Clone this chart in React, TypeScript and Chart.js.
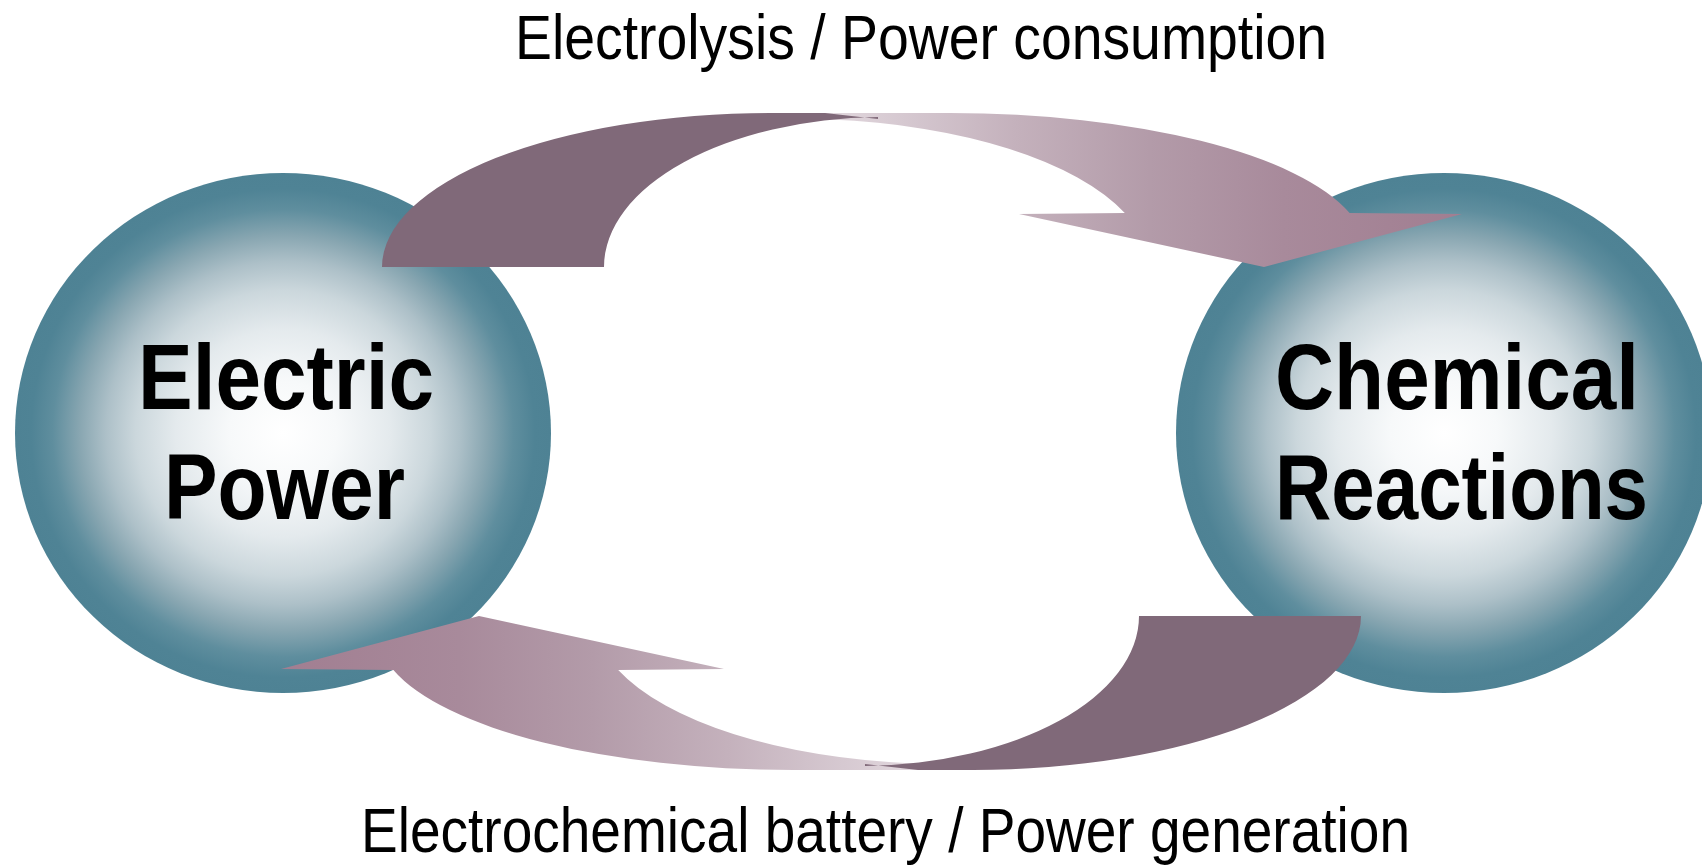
import React, { useEffect, useRef } from "react";
import { Chart, registerables } from "chart.js";

Chart.register(...registerables);

// ---- data ----
const nodeNames: string[][] = [["Electric", "Power"], ["Chemical", "Reactions"]];
const nodeX = [283, 1444];
const nodeY = [433, 433];
const nodeRadiusX = [268, 268];
const nodeRadiusY = [260, 260];
const flowLabels = ["Electrolysis / Power consumption", "Electrochemical battery / Power generation"];

// top arrow outline, as elliptical edges [centerX, centerY, radiusX, radiusY]
// (the bottom arrow is the same shape turned half a turn about the pivot)
const darkOuterArc = [770, 267, 388, 154];
const darkInnerArc = [885, 267, 281, 150];
const lightOuterArc = [950, 250, 415, 137];
const lightInnerArc = [798, 267, 351, 148];
const darkTip: [number, number][] = [[825, 113], [878, 119]];
const lightStart: [number, number] = [800, 113];
const lightStop = 830; // x where the light band's inner edge ends (under the dark part)
const barbY = 213;
const arrowHead: [number, number][] = [[1462, 214], [1264, 267], [1019, 214]];
const pivot: [number, number] = [871.5, 441.5];

// ---- layout / styles ----
const W = 1702;
const H = 866;
const flowCenterX = [921, 885.5];
const flowBaseline = [59, 852];
const flowWidth = [812, 1049];
const nodeLineCenterX = [[286, 284.5], [1457, 1461.5]];
const nodeLineBaseline = [409, 519];
const nodeLineWidth = [[296, 241], [364, 373]];
const DARK = "#806979";

function App() {
  const ref = useRef<HTMLCanvasElement | null>(null);

  useEffect(() => {
    document.body.style.margin = "0";
    const canvas = ref.current;
    if (!canvas) return;

    const diagram = {
      id: "diagram",
      beforeDatasetsDraw(chart: any) {
        const ctx: CanvasRenderingContext2D = chart.ctx;
        const xs = chart.scales.x;
        const ys = chart.scales.y;
        const X = (v: number) => xs.getPixelForValue(v);
        const Y = (v: number) => ys.getPixelForValue(v);
        const DX = (d: number) => Math.abs(X(d) - X(0));
        const DY = (d: number) => Math.abs(Y(d) - Y(0));

        // nodes
        for (let i = 0; i < nodeX.length; i++) {
          const cx = X(nodeX[i]);
          const cy = Y(nodeY[i]);
          const rx = DX(nodeRadiusX[i]);
          const ry = DY(nodeRadiusY[i]);
          ctx.save();
          ctx.translate(cx, cy);
          ctx.scale(1, ry / rx);
          const g = ctx.createRadialGradient(0, 0, 0, 0, 0, rx);
          g.addColorStop(0, "#ffffff");
          g.addColorStop(0.2, "#f7f9fa");
          g.addColorStop(0.4, "#e4eaed");
          g.addColorStop(0.55, "#cbd7dc");
          g.addColorStop(0.66, "#adc0c8");
          g.addColorStop(0.76, "#88a6b1");
          g.addColorStop(0.86, "#5f8e9e");
          g.addColorStop(0.94, "#4f8395");
          g.addColorStop(1, "#4e8294");
          ctx.beginPath();
          ctx.arc(0, 0, rx, 0, Math.PI * 2);
          ctx.fillStyle = g;
          ctx.fill();
          ctx.restore();
        }

        const arc = (e: number[], a0: number, a1: number, ccw: boolean) => {
          ctx.ellipse(X(e[0]), Y(e[1]), DX(e[2]), DY(e[3]), 0, a0, a1, ccw);
        };
        const angleAtY = (e: number[], yv: number) => Math.asin((yv - e[1]) / e[3]);
        const angleAtX = (e: number[], xv: number) => -Math.acos((xv - e[0]) / e[2]);

        const drawArrow = (turned: boolean) => {
          ctx.save();
          if (turned) {
            const px = X(pivot[0]);
            const py = Y(pivot[1]);
            ctx.translate(px, py);
            ctx.rotate(Math.PI);
            ctx.translate(-px, -py);
          }
          const x0 = X(825);
          const x1 = X(1462);
          const lg = ctx.createLinearGradient(x0, 0, x1, 0);
          lg.addColorStop(0, "#e2d8de");
          lg.addColorStop(0.118, "#d6c9d1");
          lg.addColorStop(0.3, "#c4b1bc");
          lg.addColorStop(0.51, "#b39ba9");
          lg.addColorStop(0.72, "#a88a9b");
          lg.addColorStop(1, "#a17e91");
          ctx.beginPath();
          ctx.moveTo(X(lightStart[0]), Y(lightStart[1]));
          arc(lightOuterArc, -Math.PI / 2, angleAtY(lightOuterArc, barbY), false);
          arrowHead.forEach((p) => ctx.lineTo(X(p[0]), Y(p[1])));
          arc(lightInnerArc, angleAtY(lightInnerArc, barbY), angleAtX(lightInnerArc, lightStop), true);
          ctx.closePath();
          ctx.fillStyle = lg;
          ctx.fill();

          ctx.beginPath();
          arc(darkOuterArc, Math.PI, Math.PI * 1.5, false);
          darkTip.forEach((p) => ctx.lineTo(X(p[0]), Y(p[1])));
          arc(darkInnerArc, angleAtX(darkInnerArc, darkTip[1][0]), Math.PI, true);
          ctx.closePath();
          ctx.fillStyle = DARK;
          ctx.fill();
          ctx.restore();
        };
        drawArrow(false);
        drawArrow(true);

        const fitText = (text: string, cx: number, base: number, width: number, font: string) => {
          ctx.save();
          ctx.font = font;
          const w = ctx.measureText(text).width;
          ctx.translate(cx, base);
          ctx.scale(width / w, 1);
          ctx.textAlign = "center";
          ctx.textBaseline = "alphabetic";
          ctx.fillStyle = "#000000";
          ctx.fillText(text, 0, 0);
          ctx.restore();
        };

        flowLabels.forEach((t, i) => {
          fitText(
            t,
            X(flowCenterX[i]),
            Y(flowBaseline[i]),
            DX(flowWidth[i]),
            '63px "Liberation Sans Narrow", "Liberation Sans", Arial, sans-serif'
          );
        });
        nodeNames.forEach((ls, i) => {
          ls.forEach((t, j) => {
            fitText(
              t,
              X(nodeLineCenterX[i][j]),
              Y(nodeLineBaseline[j]),
              DX(nodeLineWidth[i][j]),
              'bold 92px "Liberation Sans", Arial, sans-serif'
            );
          });
        });
      },
    };

    const chart = new Chart(canvas, {
      type: "scatter",
      data: {
        datasets: [
          {
            data: nodeX.map((v, i) => ({ x: v, y: nodeY[i] })),
            pointRadius: 0,
          },
        ],
      },
      options: {
        responsive: false,
        animation: false,
        events: [],
        layout: { padding: 0 },
        plugins: { legend: { display: false }, tooltip: { enabled: false } },
        scales: {
          x: { type: "linear", min: 0, max: W, display: false },
          y: { type: "linear", min: 0, max: H, reverse: true, display: false },
        },
      },
      plugins: [diagram],
    });
    return () => chart.destroy();
  }, []);

  return <canvas ref={ref} width={W} height={H} style={{ display: "block" }} />;
}

export default App;
